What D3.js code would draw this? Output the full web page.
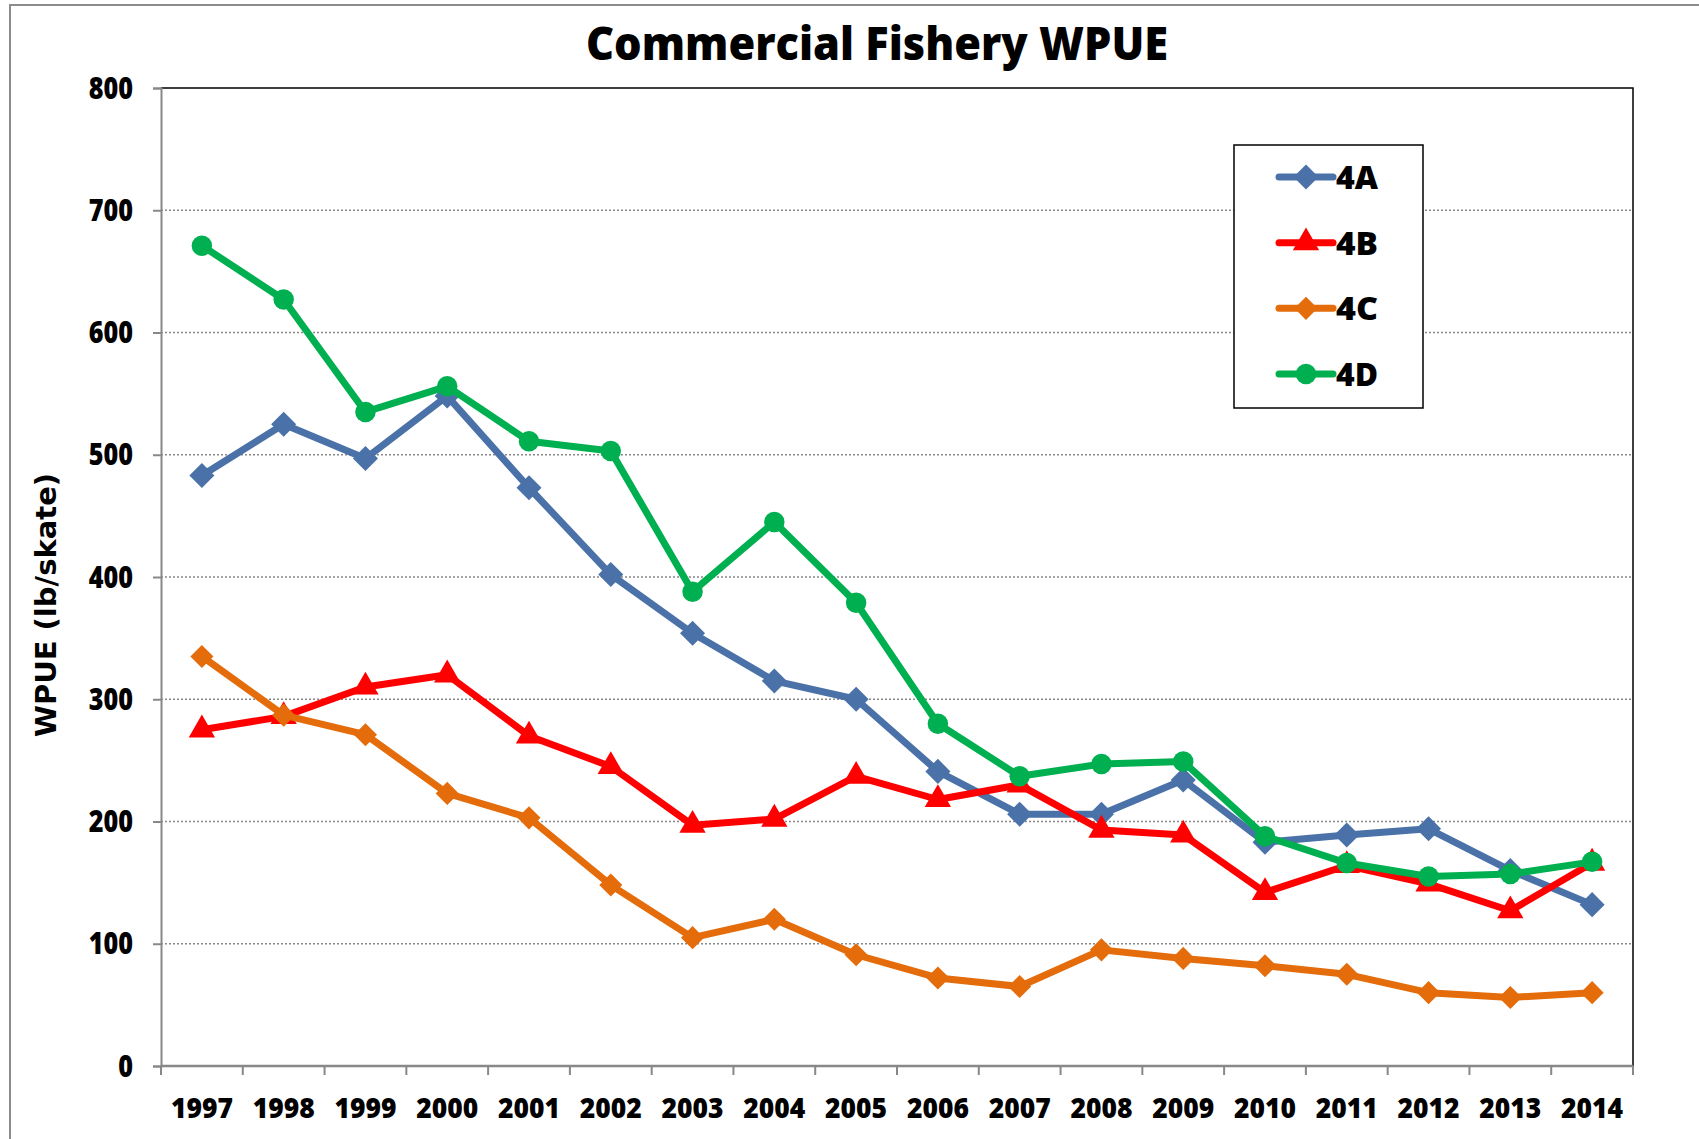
<!DOCTYPE html>
<html lang="en">
<head>
  <meta charset="UTF-8">
  <title>Commercial Fishery WPUE</title>
  <script src="https://d3js.org/d3.v7.min.js"></script>
  <style>
    body { margin: 0; background: #fff; overflow: hidden; }
    text { font-family: "Open Sans", sans-serif; font-weight: bold; fill: #000; }
  </style>
</head>
<body>
<svg id="chart" width="1699" height="1139"></svg>
<script>
const years = ["1997","1998","1999","2000","2001","2002","2003","2004","2005",
               "2006","2007","2008","2009","2010","2011","2012","2013","2014"];
const s4A = [483, 525, 497, 548, 473, 402, 354, 315, 300, 241, 206, 206, 234, 183, 189, 194, 160, 132];
const s4B = [275, 286, 310, 320, 270, 245, 197, 202, 237, 218, 230, 193, 189, 142, 164, 149, 127, 166];
const s4C = [335, 287, 271, 223, 203, 148, 105, 120, 91, 72, 65, 95, 88, 82, 75, 60, 56, 60];
const s4D = [671, 627, 535, 556, 511, 503, 388, 445, 379, 280, 237, 247, 249, 188, 166, 155, 157, 167];
const yTicks = [0, 100, 200, 300, 400, 500, 600, 700, 800];

const series = [
  { name: "4A", values: s4A, color: "#4A72A8", shape: d3.symbolDiamond2, size: 400 },
  { name: "4B", values: s4B, color: "#FF0000", shape: d3.symbolTriangle, size: 300 },
  { name: "4C", values: s4C, color: "#E46C0A", shape: d3.symbolDiamond2, size: 340 },
  { name: "4D", values: s4D, color: "#00B050", shape: d3.symbolCircle, size: 330 }
];

const svg = d3.select("#chart");
const plot = { left: 161, right: 1633, top: 88, bottom: 1066 };

// outer chart frame
svg.append("rect")
  .attr("x", 10).attr("y", 5).attr("width", 1720).attr("height", 1160)
  .attr("fill", "none").attr("stroke", "#8c8c8c").attr("stroke-width", 2);

const x = d3.scaleBand().domain(years).range([plot.left, plot.right]);
const y = d3.scaleLinear().domain([0, 800]).range([plot.bottom, plot.top]);

// gridlines
svg.append("g")
  .selectAll("line")
  .data(yTicks.filter(t => t > 0 && t < 800))
  .join("line")
  .attr("x1", plot.left).attr("x2", plot.right)
  .attr("y1", d => y(d)).attr("y2", d => y(d))
  .attr("stroke", "#888").attr("stroke-width", 1.3).attr("stroke-dasharray", "2,2");

// top and right border of the plot area
svg.append("path")
  .attr("d", `M${plot.left},${plot.top}H${plot.right}V${plot.bottom}`)
  .attr("fill", "none").attr("stroke", "#000").attr("stroke-width", 1.5);

// y axis
const yAxis = svg.append("g")
  .attr("transform", `translate(${plot.left},0)`)
  .call(d3.axisLeft(y).tickValues(yTicks).tickSize(8).tickPadding(14));
yAxis.select(".domain").attr("stroke", "#888").attr("stroke-width", 2);
yAxis.selectAll(".tick line").attr("stroke", "#888").attr("stroke-width", 2);
yAxis.selectAll(".tick text")
  .style("font-family", "'Open Sans', sans-serif").style("font-weight", "800")
  .style("font-size", "30px").attr("fill", "#000")
  .attr("transform", "scale(0.84,1)")
  .attr("x", -28 / 0.84)
  .attr("dy", "0.34em");

// x axis: ticks at band boundaries, labels at band centres
const xAxis = svg.append("g")
  .attr("transform", `translate(0,${plot.bottom})`);
xAxis.append("line")
  .attr("x1", plot.left).attr("x2", plot.right)
  .attr("stroke", "#888").attr("stroke-width", 2.5);
xAxis.selectAll(".tk")
  .data(years.concat(["end"]))
  .join("line")
  .attr("class", "tk")
  .attr("x1", (d, i) => plot.left + i * x.step())
  .attr("x2", (d, i) => plot.left + i * x.step())
  .attr("y1", 0).attr("y2", 9)
  .attr("stroke", "#888").attr("stroke-width", 2);
xAxis.selectAll(".lbl")
  .data(years)
  .join("text")
  .attr("class", "lbl")
  .attr("text-anchor", "middle")
  .attr("x", d => x(d) + x.bandwidth() / 2)
  .attr("y", 52)
  .style("font-size", "29px").style("font-weight", "800")
  .attr("textLength", 62).attr("lengthAdjust", "spacingAndGlyphs")
  .text(d => d);

// y axis title
svg.append("text")
  .attr("transform", `translate(56,${(plot.top + plot.bottom) / 2 + 28}) rotate(-90)`)
  .attr("text-anchor", "middle")
  .style("font-family", "'DejaVu Sans', sans-serif")
  .style("font-size", "29px")
  .text("WPUE (lb/skate)");

// title
svg.append("text")
  .attr("x", 877).attr("y", 60)
  .attr("text-anchor", "middle")
  .style("font-size", "46px").style("font-weight", "800")
  .attr("textLength", 582).attr("lengthAdjust", "spacingAndGlyphs")
  .text("Commercial Fishery WPUE");

// series lines and markers
const line = d3.line()
  .x((d, i) => x(years[i]) + x.bandwidth() / 2)
  .y(d => y(d));

series.forEach(s => {
  const g = svg.append("g");
  g.append("path")
    .datum(s.values)
    .attr("d", line)
    .attr("fill", "none")
    .attr("stroke", s.color)
    .attr("stroke-width", 7)
    .attr("stroke-linejoin", "round");
  g.selectAll("path.m")
    .data(s.values)
    .join("path")
    .attr("class", "m")
    .attr("transform", (d, i) => `translate(${x(years[i]) + x.bandwidth() / 2},${y(d)})`)
    .attr("d", d3.symbol().type(s.shape).size(s.size))
    .attr("fill", s.color);
});

// legend
const legend = svg.append("g");
legend.append("rect")
  .attr("x", 1234).attr("y", 145).attr("width", 189).attr("height", 263)
  .attr("fill", "#fff").attr("stroke", "#000").attr("stroke-width", 1.5);
const legY = d3.scalePoint().domain(series.map(s => s.name)).range([177, 374]);
series.forEach(s => {
  const gy = legY(s.name);
  legend.append("line")
    .attr("x1", 1279).attr("x2", 1333).attr("y1", gy).attr("y2", gy)
    .attr("stroke", s.color).attr("stroke-width", 7).attr("stroke-linecap", "round");
  legend.append("path")
    .attr("transform", `translate(1306,${gy})`)
    .attr("d", d3.symbol().type(s.shape).size(s.size))
    .attr("fill", s.color);
  legend.append("text")
    .attr("x", 1336).attr("y", gy + 12)
    .style("font-size", "32px").style("font-weight", "800")
    .attr("textLength", 42).attr("lengthAdjust", "spacingAndGlyphs")
    .text(s.name);
});
</script>
</body>
</html>
